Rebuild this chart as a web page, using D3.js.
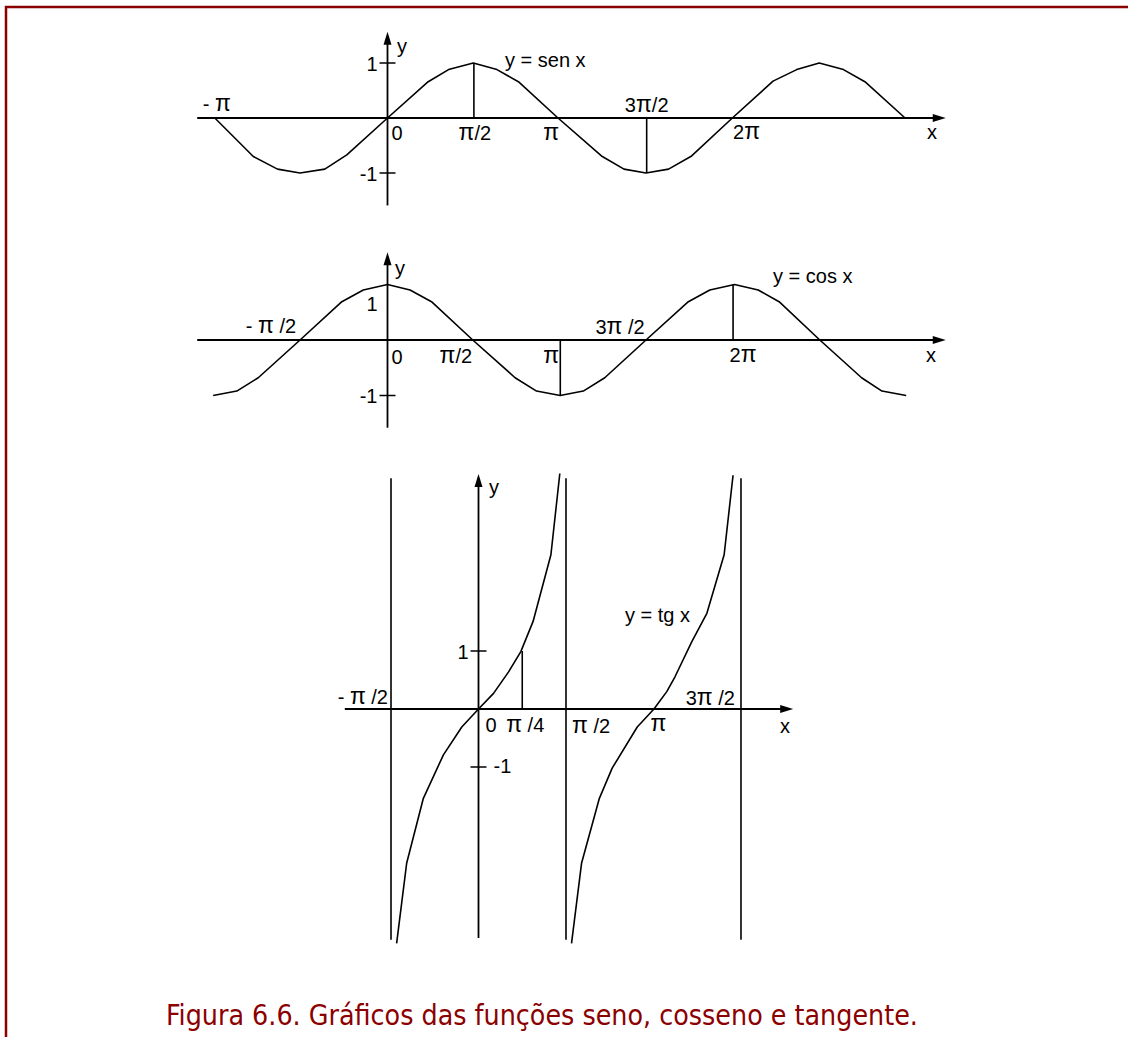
<!DOCTYPE html>
<html lang="pt">
<head>
<meta charset="UTF-8">
<title>Gráficos das funções seno, cosseno e tangente</title>
<script src="https://d3js.org/d3.v7.min.js"></script>
<style>
    body { margin: 0; background: #fff; }
    svg { display: block; }
    .lbl { font-family: "Liberation Sans", Arial, sans-serif; font-size: 20px; fill: #000; }
    .pi { font-size: 23px; }
</style>
</head>
<body>
<svg id="fig"></svg>
<script>
const PI = Math.PI;

// y = sen x  (vertices, x in radians)
const sinX = [-3.14, -2.44, -2.00, -1.59, -1.14, -0.74, 0, 0.74, 1.11, 1.56, 1.99, 2.38, 3.10,
              3.89, 4.30, 4.70, 5.11, 5.53, 6.27, 7.01, 7.44, 7.85, 8.29, 8.68, 9.41];
const sinY = [0, -0.70, -0.93, -1.0, -0.93, -0.67, 0, 0.66, 0.88, 1.0, 0.88, 0.66, 0,
              -0.69, -0.93, -1.0, -0.93, -0.69, 0, 0.67, 0.88, 1.0, 0.88, 0.66, 0];
const sinTickValues = [-PI, 0, PI / 2, PI, 3 * PI / 2, 2 * PI];
const sinTickLabels = ["- π", "0", "π/2", "π", "3π/2", "2π"];
const sinMarkX = [PI / 2, 3 * PI / 2];
const sinMarkY = [1, -1];

// y = cos x
const cosX = [-3.17, -2.74, -2.35, -1.59, -0.83, -0.44, 0, 0.41, 0.80, 1.55, 2.32, 2.71, 3.14,
              3.56, 3.95, 4.70, 5.47, 5.86, 6.31, 6.74, 7.12, 7.86, 8.62, 8.99, 9.43];
const cosY = [-1.0, -0.92, -0.68, 0, 0.69, 0.90, 1.0, 0.90, 0.69, 0, -0.68, -0.92, -1.0,
              -0.92, -0.68, 0, 0.69, 0.90, 1.0, 0.90, 0.69, 0, -0.68, -0.92, -1.0];
const cosTickValues = [-PI / 2, 0, PI / 2, PI, 3 * PI / 2, 2 * PI];
const cosTickLabels = ["- π /2", "0", "π/2", "π", "3π /2", "2π"];
const cosMarkX = [PI, 2 * PI];
const cosMarkY = [-1, 1];

// y = tg x  (two branches)
const tanX1 = [-1.47, -1.29, -0.99, -0.63, -0.30, 0, 0.27, 0.54, 0.76, 0.98, 1.30, 1.46];
const tanY1 = [-4.04, -2.66, -1.54, -0.79, -0.31, 0, 0.27, 0.64, 0.99, 1.51, 2.66, 4.06];
const tanX2 = [1.67, 1.85, 2.17, 2.40, 2.85, 3.15, 3.38, 3.53, 3.83, 4.10, 4.41, 4.57];
const tanY2 = [-4.04, -2.66, -1.54, -1.02, -0.31, 0, 0.30, 0.56, 1.16, 1.65, 2.66, 4.03];
const tanAsymptotes = [-PI / 2, PI / 2, 3 * PI / 2];
const tanTickValues = [-PI / 2, 0, PI / 4, PI / 2, PI, 3 * PI / 2];
const tanTickLabels = ["- π /2", "0", "π /4", "π /2", "π", "3π /2"];
const tanMarkX = [PI / 4];
const tanMarkY = [1];

const caption = "Figura 6.6. Gráficos das funções seno, cosseno e tangente.";

const W = 1128, H = 1037;
const svg = d3.select("#fig").attr("width", W).attr("height", H);
const red = "#8b0000";

// page frame
svg.append("path")
    .attr("d", `M6,${H} V7 H${W}`)
    .attr("fill", "none")
    .attr("stroke", red)
    .attr("stroke-width", 2.5);

const line = (x, y) => d3.line().x(d => x(d[0])).y(d => y(d[1]));

function arrowRight(g, x, y) {
    g.append("path").attr("d", `M${x},${y} l-13,-4 v8 z`).attr("fill", "#000");
}
function arrowUp(g, x, y) {
    g.append("path").attr("d", `M${x},${y} l-4,13 h8 z`).attr("fill", "#000");
}

// text with a slightly larger pi glyph, like the symbol font of the original
function label(g, x, y, str, anchor) {
    const t = g.append("text").attr("class", "lbl")
        .attr("x", x).attr("y", y).attr("text-anchor", anchor || "start");
    str.split(/(π)/).filter(s => s.length).forEach(s => {
        t.append("tspan").attr("class", s === "π" ? "pi" : null).text(s);
    });
    return t;
}

function drawPanel(p) {
    const g = svg.append("g");
    const x = p.x, y = p.y;
    const sw = 1.8;

    // axes
    g.append("line").attr("x1", x(p.xExt[0])).attr("x2", x(p.xExt[1]) - 6)
        .attr("y1", y(0)).attr("y2", y(0)).attr("stroke", "#000").attr("stroke-width", sw);
    arrowRight(g, x(p.xExt[1]), y(0));
    g.append("line").attr("x1", x(0)).attr("x2", x(0))
        .attr("y1", y(p.yExt[0])).attr("y2", y(p.yExt[1]) + 6)
        .attr("stroke", "#000").attr("stroke-width", sw);
    arrowUp(g, x(0), y(p.yExt[1]));

    // y ticks
    p.yTicks.forEach(v => {
        g.append("line").attr("x1", x(0) - 8).attr("x2", x(0) + 8)
            .attr("y1", y(v)).attr("y2", y(v)).attr("stroke", "#000").attr("stroke-width", 1.5);
    });

    // curves
    p.curves.forEach(c => {
        g.append("path").datum(d3.zip(c[0], c[1]))
            .attr("d", line(x, y))
            .attr("fill", "none").attr("stroke", "#000").attr("stroke-width", 1.6)
            .attr("stroke-linejoin", "round");
    });

    // vertical markers
    p.markX.forEach((v, i) => {
        g.append("line").attr("x1", x(v)).attr("x2", x(v))
            .attr("y1", y(0)).attr("y2", y(p.markY[i]))
            .attr("stroke", "#000").attr("stroke-width", 1.6);
    });

    // x tick labels
    p.tickValues.forEach((v, i) => {
        const o = p.tickPos[i];
        label(g, x(v) + o[0], y(0) + o[1], p.tickLabels[i], o[2]);
    });

    // free labels
    p.texts.forEach(t => label(g, t[0], t[1], t[2], t[3]));
    return g;
}

// --- seno ---
{
    const x = d3.scaleLinear().domain([0, 1]).range([387.5, 442.5]);
    const y = d3.scaleLinear().domain([0, 1]).range([118, 63]);
    drawPanel({
        x, y,
        xExt: [-3.46, 10.15], yExt: [-1.59, 1.57],
        yTicks: [1, -1],
        curves: [[sinX, sinY]],
        markX: sinMarkX, markY: sinMarkY,
        tickValues: sinTickValues, tickLabels: sinTickLabels,
        tickPos: [[2, -7, "middle"], [4, 22, "start"], [1, 22, "middle"], [-9, 22, "middle"],
                  [0, -6, "middle"], [0, 21, "start"]],
        texts: [
            [x(0) - 10, y(1) + 8, "1", "end"],
            [x(0) - 10, y(-1) + 8, "-1", "end"],
            [927, y(0) + 21, "x"],
            [397, 53, "y"],
            [505, 67, "y = sen x"]
        ]
    });
}

// --- cosseno ---
{
    const x = d3.scaleLinear().domain([0, 1]).range([387.5, 442.5]);
    const y = d3.scaleLinear().domain([0, 1]).range([340, 284.5]);
    drawPanel({
        x, y,
        xExt: [-3.46, 10.15], yExt: [-1.58, 1.58],
        yTicks: [-1],
        curves: [[cosX, cosY]],
        markX: cosMarkX, markY: cosMarkY,
        tickValues: cosTickValues, tickLabels: cosTickLabels,
        tickPos: [[-5, -7, "end"], [4, 24, "start"], [-18, 23, "middle"], [-9, 23, "middle"],
                  [-2, -6, "end"], [10, 22, "middle"]],
        texts: [
            [x(0) - 10, y(1) + 26, "1", "end"],
            [x(0) - 10, y(-1) + 7, "-1", "end"],
            [926, y(0) + 22, "x"],
            [395, 275, "y"],
            [773, 283, "y = cos x"]
        ]
    });
}

// --- tangente ---
{
    const x = d3.scaleLinear().domain([0, 1]).range([478.5, 534.2]);
    const y = d3.scaleLinear().domain([0, 1]).range([709, 651]);
    const g = drawPanel({
        x, y,
        xExt: [-2.40, 5.65], yExt: [-3.95, 4.05],
        yTicks: [1, -1],
        curves: [[tanX1, tanY1], [tanX2, tanY2]],
        markX: tanMarkX, markY: tanMarkY,
        tickValues: tanTickValues, tickLabels: tanTickLabels,
        tickPos: [[-3, -5, "end"], [7, 23, "start"], [3, 23, "middle"], [6, 24, "start"],
                  [5, 22, "middle"], [-6, -4, "end"]],
        texts: [
            [x(0) - 10, y(1) + 8, "1", "end"],
            [x(0) + 15, y(-1) + 6, "-1", "start"],
            [780, 733, "x"],
            [489, 494, "y"],
            [625, 622, "y = tg x"]
        ]
    });
    g.selectAll(".asym").data(tanAsymptotes).join("line")
        .attr("class", "asym")
        .attr("x1", d => x(d)).attr("x2", d => x(d))
        .attr("y1", y(3.98)).attr("y2", y(-3.98))
        .attr("stroke", "#000").attr("stroke-width", 1.6);
}

// caption
const cap = svg.append("text")
    .attr("x", 542).attr("y", 1025)
    .attr("text-anchor", "middle")
    .style("font-family", "'DejaVu Sans Condensed', 'Open Sans', sans-serif")
    .style("font-stretch", "condensed")
    .style("font-size", "28px")
    .attr("fill", red)
    .text(caption);
const len = cap.node().getComputedTextLength();
cap.style("font-size", (28 * 752 / len).toFixed(2) + "px");
</script>
</body>
</html>
